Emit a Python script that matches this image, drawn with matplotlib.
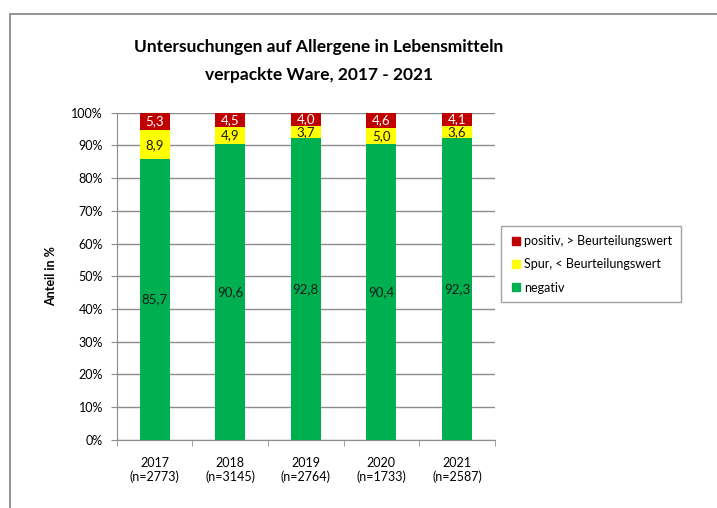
import matplotlib.pyplot as plt
from matplotlib.patches import Rectangle
from matplotlib.lines import Line2D
import numpy as np

plt.rcParams['font.family'] = ['Lato', 'DejaVu Sans']

years = ["2017", "2018", "2019", "2020", "2021"]
counts = [2773, 3145, 2764, 1733, 2587]
negativ = [85.7, 90.6, 92.8, 90.4, 92.3]
spur = [8.9, 4.9, 3.7, 5.0, 3.6]
positiv = [5.3, 4.5, 4.0, 4.6, 4.1]

green = "#00B050"
yellow = "#FFFF00"
red = "#C00000"

fig = plt.figure(figsize=(7.17, 5.08), dpi=100)
ax = fig.add_axes([0.163, 0.134, 0.527, 0.644])

# outer chart frame (only left and top edges visible in the crop)
fig.patches.append(Rectangle((10/717, -0.1), 1.2, (508-14)/508 + 0.1,
                             transform=fig.transFigure, fill=False,
                             edgecolor="#808080", linewidth=1.2))

x = np.arange(len(years))
tot = np.array(negativ) + np.array(spur) + np.array(positiv)
neg_p = np.array(negativ) / tot * 100
spur_p = np.array(spur) / tot * 100
pos_p = np.array(positiv) / tot * 100

w = 0.4
ax.bar(x, neg_p, w, color=green, zorder=3)
ax.bar(x, spur_p, w, bottom=neg_p, color=yellow, zorder=3)
ax.bar(x, pos_p, w, bottom=neg_p + spur_p, color=red, zorder=3)

def fmt(v):
    return f"{v:.1f}".replace(".", ",")

for i in range(len(years)):
    ax.text(x[i], neg_p[i] / 2, fmt(negativ[i]), ha="center", va="center",
            fontsize=9.5, color="#1a1a1a", zorder=4)
    ax.text(x[i], neg_p[i] + spur_p[i] / 2, fmt(spur[i]), ha="center", va="center",
            fontsize=9.5, color="#1a1a1a", zorder=4)
    ax.text(x[i], neg_p[i] + spur_p[i] + pos_p[i] / 2, fmt(positiv[i]), ha="center",
            va="center", fontsize=9.5, color="white", zorder=4)

ax.set_xlim(-0.5, len(years) - 0.5)
ax.set_ylim(0, 100)
ax.set_yticks(np.arange(0, 101, 10))
ax.set_yticklabels([f"{v}%" for v in range(0, 101, 10)], fontsize=9)
ax.yaxis.grid(True, color="#8c8c8c", linewidth=1, zorder=0)

ax.set_xticks(x)
ax.set_xticklabels([f"{y}\n(n={n})" for y, n in zip(years, counts)], fontsize=9)
ax.tick_params(axis="x", length=0, pad=12)
ax.set_xticks(np.arange(-0.5, len(years)), minor=True)
ax.tick_params(axis="x", which="minor", length=4, color="#8c8c8c")
ax.tick_params(axis="y", length=4, color="#8c8c8c", pad=6)

for s in ["top", "right"]:
    ax.spines[s].set_visible(False)
for s in ["left", "bottom"]:
    ax.spines[s].set_color("#8c8c8c")

ax.set_ylabel("Anteil in %", fontsize=9, fontweight="bold", labelpad=10)

fig.text(0.445, 0.907, "Untersuchungen auf Allergene in Lebensmitteln",
         ha="center", va="center", fontsize=12.5, fontweight="bold")
fig.text(0.445, 0.853, "verpackte Ware, 2017 - 2021",
         ha="center", va="center", fontsize=12.5, fontweight="bold")

handles = [Line2D([], [], marker="s", linestyle="", color=c, markersize=6)
           for c in [red, yellow, green]]
leg = fig.legend(handles, ["positiv, > Beurteilungswert", "Spur, < Beurteilungswert", "negativ"],
                 loc="upper left", bbox_to_anchor=(495/717, 1 - 220/508),
                 fontsize=9, frameon=True, fancybox=False, handletextpad=0.1,
                 labelspacing=0.9, borderpad=0.7, handlelength=1.0)
leg.get_frame().set_edgecolor("#8c8c8c")
leg.get_frame().set_linewidth(1)

fig.savefig("out.png", dpi=100)
